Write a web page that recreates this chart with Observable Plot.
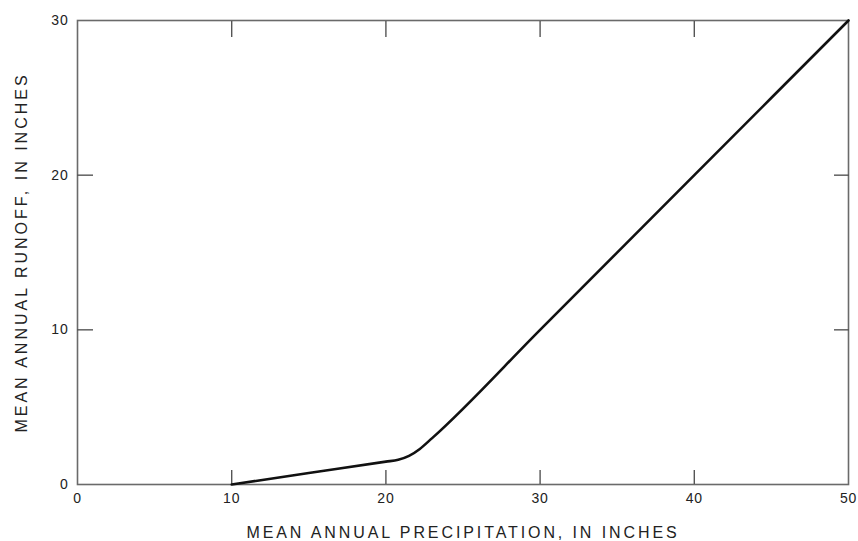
<!DOCTYPE html>
<html>
<head>
<meta charset="utf-8">
<script src="https://cdn.jsdelivr.net/npm/d3@7"></script>
<script src="https://cdn.jsdelivr.net/npm/@observablehq/plot@0.6"></script>
<style>
  body { margin: 0; background: #fff; }
  #chart svg { overflow: visible; }
  g[aria-label="x-axis label"] text { font-size: 16px; letter-spacing: 2.9px; }
  g[aria-label="y-axis label"] text { font-size: 16px; letter-spacing: 3px; }
  g[aria-label="x-axis tick label"] text,
  g[aria-label="y-axis tick label"] text { letter-spacing: 0.8px; }
</style>
</head>
<body>
<div id="chart"></div>
<script>
// Mean annual precipitation (in) and mean annual runoff (in)
const precipitation = [10, 15, 20, 20.8, 21.5, 22.2, 23, 30, 40, 50];
const runoff = [0, 0.74, 1.48, 1.6, 1.85, 2.3, 3.0, 10, 20, 30];

// Axis ticks
const xTicks = [0, 10, 20, 30, 40, 50];
const yTicks = [0, 10, 20, 30];
const xInnerTicks = [10, 20, 30, 40];
const yInnerTicks = [10, 20];

const data = precipitation.map((p, i) => ({precipitation: p, runoff: runoff[i]}));
const blank = () => "";

const chart = Plot.plot({
  width: 858,
  height: 541,
  marginLeft: 77,
  marginRight: 10,
  marginTop: 20,
  marginBottom: 57,
  style: {fontFamily: "'Liberation Sans', Arial, sans-serif", fontSize: "14px", color: "#222", background: "#fff"},
  x: {domain: [0, 50]},
  y: {domain: [0, 30]},
  marks: [
    Plot.frame({stroke: "#6a6a6a", strokeWidth: 1.6}),
    // tick labels and axis titles
    Plot.axisX(xTicks, {
      anchor: "bottom", tickSize: 0, tickPadding: 9,
      label: "MEAN ANNUAL PRECIPITATION, IN INCHES",
      labelAnchor: "center", labelOffset: 53, labelArrow: "none"
    }),
    Plot.axisY(yTicks, {
      anchor: "left", tickSize: 0, tickPadding: 9,
      label: "MEAN ANNUAL RUNOFF, IN INCHES",
      labelAnchor: "center", labelOffset: 62, labelArrow: "none"
    }),
    // inward ticks on all four sides
    Plot.axisX(xInnerTicks, {anchor: "bottom", tickSize: -14, tickFormat: blank, label: null, stroke: "#555", strokeWidth: 1.4}),
    Plot.axisX(xInnerTicks, {anchor: "top", tickSize: -16, tickFormat: blank, label: null, stroke: "#555", strokeWidth: 1.4}),
    Plot.axisY(yInnerTicks, {anchor: "left", tickSize: -16, tickFormat: blank, label: null, stroke: "#555", strokeWidth: 1.4}),
    Plot.axisY(yInnerTicks, {anchor: "right", tickSize: -15, tickFormat: blank, label: null, stroke: "#555", strokeWidth: 1.4}),
    // runoff curve
    Plot.line(data, {
      x: "precipitation", y: "runoff",
      stroke: "#111", strokeWidth: 2.6, curve: "monotone-x",
      strokeLinejoin: "round", strokeLinecap: "round"
    })
  ]
});

document.getElementById("chart").append(chart);
</script>
</body>
</html>
